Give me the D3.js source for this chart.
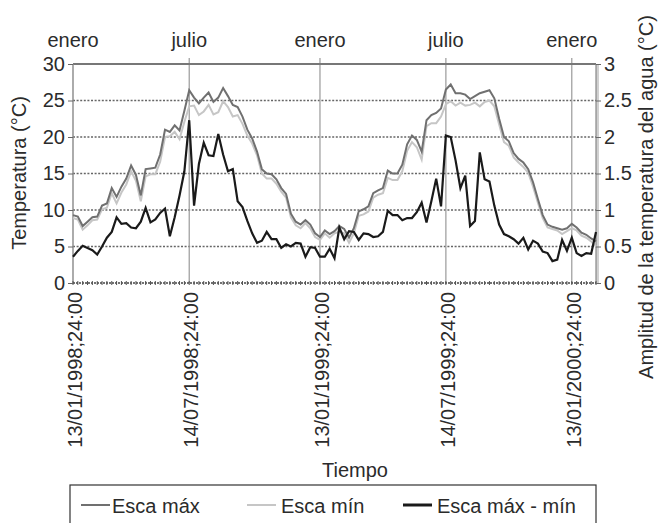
<!DOCTYPE html>
<html>
<head>
<meta charset="utf-8">
<script src="https://cdn.jsdelivr.net/npm/d3@7"></script>
<style>
  body { margin: 0; background: #fff; }
  text { font-family: 'Liberation Sans', Arial, sans-serif; fill: #2b2b2b; }
</style>
</head>
<body>
<svg id="chart" width="660" height="523"></svg>
<script>
// weekly samples, index 0 = 13/01/1998
const escaMax = [
  9.3, 9.1, 7.8, 8.4, 9.0, 9.1, 10.6, 10.9, 13.0, 11.8,
  13.2, 14.3, 16.1, 14.8, 12.0, 15.6, 15.7, 15.8, 17.6, 21.0,
  20.7, 21.6, 20.9, 23.6, 26.4, 25.4, 24.6, 25.4, 26.1, 24.8,
  25.4, 26.7, 25.6, 24.4, 24.1, 22.8, 21.0, 19.8, 18.0, 15.6,
  15.0, 14.9, 14.2, 13.0, 12.2, 9.5, 8.4, 8.0, 8.6, 8.0,
  6.8, 6.3, 7.2, 6.7, 7.1, 7.8, 7.4, 6.2, 7.5, 9.8,
  10.1, 10.5, 12.3, 12.7, 13.0, 15.4, 15.0, 15.0, 16.2, 19.0,
  20.2, 19.6, 18.0, 22.3, 23.0, 23.3, 23.9, 26.5, 27.2, 26.0,
  26.0, 25.8, 25.2, 25.6, 26.0, 26.2, 26.4, 25.3, 22.5, 20.0,
  19.4, 17.8, 17.0, 16.5, 15.6, 13.8, 11.5, 9.3, 8.0, 7.7,
  7.5, 7.3, 7.5, 8.1, 7.6, 6.9, 6.6, 6.1, 5.7
];
const escaMin = [
  8.9, 8.7, 7.3, 7.9, 8.6, 8.7, 10.1, 10.3, 12.3, 10.9,
  12.4, 13.5, 15.3, 14.0, 11.2, 14.6, 14.9, 14.9, 16.6, 20.0,
  20.1, 20.7, 19.7, 22.1, 24.2, 24.3, 23.0, 23.5, 24.4, 23.1,
  23.4, 24.9, 24.1, 22.8, 23.0, 21.8, 20.2, 19.1, 17.5, 15.0,
  14.3, 14.3, 13.6, 12.5, 11.7, 9.0, 7.9, 7.5, 8.2, 7.5,
  6.3, 5.9, 6.8, 6.2, 6.8, 7.0, 6.8, 5.5, 6.8, 9.2,
  9.4, 9.8, 11.7, 12.1, 12.3, 14.4, 14.1, 14.1, 15.3, 18.1,
  19.3, 18.6, 16.9, 21.5, 21.9, 21.9, 22.8, 24.5, 24.9, 24.3,
  24.7, 24.3, 24.4, 24.7, 24.2, 24.8, 25.0, 24.2, 21.7, 19.3,
  18.8, 17.2, 16.5, 15.9, 15.1, 13.2, 11.0, 8.9, 7.6, 7.4,
  7.2, 6.7, 7.1, 7.5, 7.2, 6.5, 6.2, 5.7, 5.0
];
// Esca máx - mín, right axis
const amplitud = [
  0.36, 0.44, 0.51, 0.48, 0.45, 0.39, 0.50, 0.62, 0.70, 0.90,
  0.81, 0.82, 0.76, 0.75, 0.84, 1.03, 0.83, 0.87, 0.96, 1.02,
  0.64, 0.90, 1.20, 1.53, 2.23, 1.06, 1.63, 1.92, 1.75, 1.74,
  2.04, 1.76, 1.53, 1.56, 1.12, 1.04, 0.85, 0.68, 0.55, 0.58,
  0.70, 0.60, 0.60, 0.48, 0.53, 0.50, 0.55, 0.54, 0.36, 0.49,
  0.48, 0.36, 0.36, 0.47, 0.34, 0.76, 0.60, 0.71, 0.70, 0.59,
  0.68, 0.67, 0.63, 0.64, 0.70, 0.99, 0.93, 0.93, 0.86, 0.89,
  0.89, 0.97, 1.10, 0.83, 1.12, 1.43, 1.05, 2.02, 2.00, 1.68,
  1.30, 1.47, 0.78, 0.85, 1.79, 1.42, 1.39, 1.06, 0.80, 0.67,
  0.64, 0.60, 0.54, 0.62, 0.46, 0.58, 0.54, 0.43, 0.41, 0.30,
  0.32, 0.59, 0.44, 0.62, 0.41, 0.37, 0.41, 0.40, 0.70
];

const markIndex = [0, 24, 51, 77, 103];
const monthLabels = ['enero', 'julio', 'enero', 'julio', 'enero'];
const dateLabels = ['13/01/1998;24:00', '14/07/1998;24:00', '13/01/1999;24:00', '14/07/1999;24:00', '13/01/2000;24:00'];
const leftTicks = [0, 5, 10, 15, 20, 25, 30];
const rightTicks = [0, 0.5, 1, 1.5, 2, 2.5, 3];
const seriesNames = ['Esca máx', 'Esca mín', 'Esca máx - mín'];

const svg = d3.select('#chart');
const plotLeft = 73, plotRight = 596, plotTop = 64, plotBottom = 283;

const x = d3.scaleLinear().domain([0, escaMax.length - 1]).range([plotLeft, plotRight]);
const y = d3.scaleLinear().domain([0, 30]).range([plotBottom, plotTop]);
const yR = d3.scaleLinear().domain([0, 3]).range([plotBottom, plotTop]);

// right edge shading
svg.append('rect')
  .attr('x', plotRight).attr('y', plotTop).attr('width', 3).attr('height', plotBottom - plotTop)
  .attr('fill', '#d0d0d0');

// dotted gridlines
svg.append('g')
  .selectAll('line')
  .data(leftTicks.filter(t => t > 0 && t < 30))
  .enter()
  .append('line')
  .attr('x1', plotLeft).attr('x2', plotRight)
  .attr('y1', d => y(d)).attr('y2', d => y(d))
  .attr('stroke', '#666')
  .attr('stroke-width', 1.6)
  .attr('stroke-dasharray', '2,1.6');

// month separators
svg.append('g')
  .selectAll('line')
  .data(markIndex.slice(1))
  .enter()
  .append('line')
  .attr('x1', d => x(d)).attr('x2', d => x(d))
  .attr('y1', plotTop - 6).attr('y2', plotBottom)
  .attr('stroke', '#9a9a9a')
  .attr('stroke-width', 1.2);

// frame
svg.append('line')
  .attr('x1', plotLeft).attr('x2', plotRight).attr('y1', plotTop).attr('y2', plotTop)
  .attr('stroke', '#777').attr('stroke-width', 1.8);
svg.append('line')
  .attr('x1', plotLeft).attr('x2', plotLeft).attr('y1', plotTop).attr('y2', plotBottom)
  .attr('stroke', '#888').attr('stroke-width', 1.4);
svg.append('line')
  .attr('x1', plotRight).attr('x2', plotRight).attr('y1', plotTop).attr('y2', plotBottom)
  .attr('stroke', '#888').attr('stroke-width', 1.2);

// bottom axis with a tick per sample
svg.append('line')
  .attr('x1', plotLeft).attr('x2', plotRight).attr('y1', plotBottom).attr('y2', plotBottom)
  .attr('stroke', '#444').attr('stroke-width', 1.5)
  .attr('stroke-dasharray', '2,1');
svg.append('g')
  .selectAll('line')
  .data(d3.range(escaMax.length))
  .enter()
  .append('line')
  .attr('x1', d => x(d)).attr('x2', d => x(d))
  .attr('y1', plotBottom - 2).attr('y2', plotBottom + 2)
  .attr('stroke', '#555').attr('stroke-width', 1);

// left axis
const leftAxis = svg.append('g')
  .attr('transform', `translate(${plotLeft},0)`)
  .call(d3.axisLeft(y).tickValues(leftTicks).tickSize(5).tickPadding(3));
leftAxis.select('.domain').remove();
leftAxis.selectAll('line').attr('stroke', '#666');
leftAxis.selectAll('text').style('font-size', '20px').attr('fill', '#2b2b2b');

// right axis
const rightAxis = svg.append('g')
  .attr('transform', `translate(${plotRight},0)`)
  .call(d3.axisRight(yR).tickValues(rightTicks).tickFormat(d3.format('')).tickSize(5).tickPadding(3));
rightAxis.select('.domain').remove();
rightAxis.selectAll('line').attr('stroke', '#666');
rightAxis.selectAll('text').style('font-size', '20px').attr('fill', '#2b2b2b');

// series
const line = scale => d3.line().x((d, i) => x(i)).y(d => scale(d));

svg.append('path')
  .datum(escaMin)
  .attr('d', line(y))
  .attr('fill', 'none')
  .attr('stroke', '#c6c6c6')
  .attr('stroke-width', 2);

svg.append('path')
  .datum(escaMax)
  .attr('d', line(y))
  .attr('fill', 'none')
  .attr('stroke', '#707070')
  .attr('stroke-width', 2);

svg.append('path')
  .datum(amplitud)
  .attr('d', line(yR))
  .attr('fill', 'none')
  .attr('stroke', '#1a1a1a')
  .attr('stroke-width', 2.2);

// month labels on top
svg.append('g')
  .selectAll('text')
  .data(markIndex)
  .enter()
  .append('text')
  .attr('x', d => x(d))
  .attr('y', 47)
  .attr('text-anchor', 'middle')
  .style('font-size', '20px')
  .text((d, i) => monthLabels[i]);

// date labels below
svg.append('g')
  .selectAll('text')
  .data(markIndex)
  .enter()
  .append('text')
  .attr('transform', d => `translate(${x(d) + 2},292) rotate(-90)`)
  .attr('dy', '0.35em')
  .attr('text-anchor', 'end')
  .style('font-size', '20px')
  .text((d, i) => dateLabels[i]);

// axis titles
svg.append('text')
  .attr('transform', 'translate(19,173) rotate(-90)')
  .attr('dy', '0.35em')
  .attr('text-anchor', 'middle')
  .style('font-size', '20px')
  .text('Temperatura (°C)');

svg.append('text')
  .attr('transform', 'translate(646,197) rotate(-90)')
  .attr('dy', '0.35em')
  .attr('text-anchor', 'middle')
  .style('font-size', '20px')
  .text('Amplitud de la temperatura del agua (°C)');

svg.append('text')
  .attr('x', 355)
  .attr('y', 477)
  .attr('text-anchor', 'middle')
  .style('font-size', '20px')
  .text('Tiempo');

// legend
const legendColors = ['#707070', '#c6c6c6', '#1a1a1a'];
const legendX = [81, 247, 403];
svg.append('rect')
  .attr('x', 70).attr('y', 485).attr('width', 526).attr('height', 60)
  .attr('fill', 'none').attr('stroke', '#333').attr('stroke-width', 1.2);

const legendItem = svg.append('g')
  .selectAll('g')
  .data(seriesNames)
  .enter()
  .append('g')
  .attr('transform', (d, i) => `translate(${legendX[i]},505)`);

legendItem.append('line')
  .attr('x1', 0).attr('x2', 29)
  .attr('stroke', (d, i) => legendColors[i])
  .attr('stroke-width', (d, i) => i === 2 ? 3 : 2);

legendItem.append('text')
  .attr('x', (d, i) => i === 0 ? 31 : 34)
  .attr('y', 8)
  .style('font-size', '20px')
  .text(d => d);
</script>
</body>
</html>
